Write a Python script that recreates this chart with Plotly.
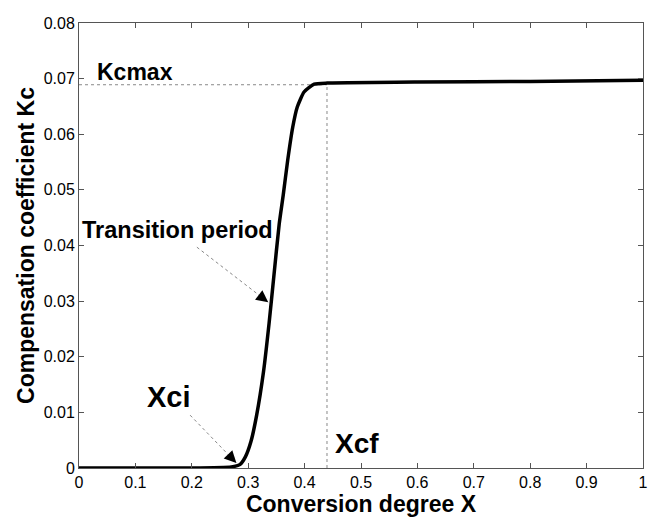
import plotly.graph_objects as go

# Data
x_conv = [0.0, 0.1, 0.2, 0.27, 0.285, 0.295, 0.305, 0.315, 0.327, 0.337, 0.345,
          0.355, 0.362, 0.370, 0.379, 0.387, 0.399, 0.417, 0.44, 0.6, 0.8, 1.0]
kc = [0.0, 0.0, 0.0, 0.0002, 0.0006, 0.002, 0.0048, 0.0095, 0.0172, 0.026, 0.034,
      0.0439, 0.049, 0.0553, 0.0613, 0.0649, 0.0676, 0.069, 0.0692, 0.0694, 0.0695, 0.0697]
kcmax = 0.0689
xcf = 0.4397
x_ticks = [0, 0.1, 0.2, 0.3, 0.4, 0.5, 0.6, 0.7, 0.8, 0.9, 1]
x_tick_text = ["0", "0.1", "0.2", "0.3", "0.4", "0.5", "0.6", "0.7", "0.8", "0.9", "1"]
y_ticks = [0, 0.01, 0.02, 0.03, 0.04, 0.05, 0.06, 0.07, 0.08]
y_tick_text = ["0", "0.01", "0.02", "0.03", "0.04", "0.05", "0.06", "0.07", "0.08"]

FONT = "Liberation Sans, Arial, sans-serif"

fig = go.Figure()

# Guide dotted lines (Kcmax and Xcf)
fig.add_trace(go.Scatter(x=[0, xcf], y=[kcmax, kcmax], mode="lines",
                         line=dict(color="#888888", width=1, dash="dot"),
                         hoverinfo="skip", showlegend=False))
fig.add_trace(go.Scatter(x=[xcf, xcf], y=[0, kcmax], mode="lines",
                         line=dict(color="#888888", width=1, dash="dot"),
                         hoverinfo="skip", showlegend=False))

# Main curve
fig.add_trace(go.Scatter(x=x_conv, y=kc, mode="lines",
                         line=dict(color="black", width=3.5, shape="spline", smoothing=0.5),
                         showlegend=False))

# Arrow guide lines (dotted)
arrows = [
    ((0.209, 0.0397), (0.3355, 0.0298), (-9.5, -7.3)),
    ((0.197, 0.0095), (0.279, 0.0009), (-8.3, -8.6)),
]
for (tx, ty), (hx, hy), (ox, oy) in arrows:
    fig.add_trace(go.Scatter(x=[tx, hx], y=[ty, hy], mode="lines",
                             line=dict(color="#888888", width=1, dash="dot"),
                             hoverinfo="skip", showlegend=False))
    fig.add_annotation(x=hx, y=hy, ax=ox, ay=oy, text="", showarrow=True,
                       arrowhead=2, arrowsize=1.6, arrowwidth=1.5, arrowcolor="black")

# Text labels
labels = [
    ("Kcmax", 0.099, 0.0712, 23),
    ("Transition period", 0.175, 0.0427, 23.5),
    ("Xci", 0.16, 0.0128, 29),
    ("Xcf", 0.4926, 0.0044, 28),
]
for txt, lx, ly, sz in labels:
    fig.add_annotation(x=lx, y=ly, text="<b>%s</b>" % txt, showarrow=False,
                       font=dict(family=FONT, size=sz, color="black"),
                       xanchor="center", yanchor="middle")

axis_common = dict(showgrid=False, zeroline=False, showline=True, linecolor="#555555",
                   linewidth=1, mirror="ticks", ticks="inside", ticklen=5,
                   tickcolor="#555555", automargin=False,
                   tickfont=dict(family=FONT, size=16, color="black"))

fig.update_xaxes(range=[0, 1], tickvals=x_ticks, ticktext=x_tick_text,
                 title=dict(text="<b>Conversion degree X</b>", standoff=2,
                            font=dict(family=FONT, size=23, color="black")),
                 **axis_common)
fig.update_yaxes(range=[0, 0.08], tickvals=y_ticks, ticktext=y_tick_text,
                 title=dict(text="<b>Compensation coefficient Kc</b>", standoff=2,
                            font=dict(family=FONT, size=23, color="black")),
                 **axis_common)

fig.update_layout(width=649, height=518, margin=dict(l=79, r=6, t=23, b=50),
                  plot_bgcolor="white", paper_bgcolor="white",
                  font=dict(family=FONT, color="black"))

fig.write_html("out.html")
